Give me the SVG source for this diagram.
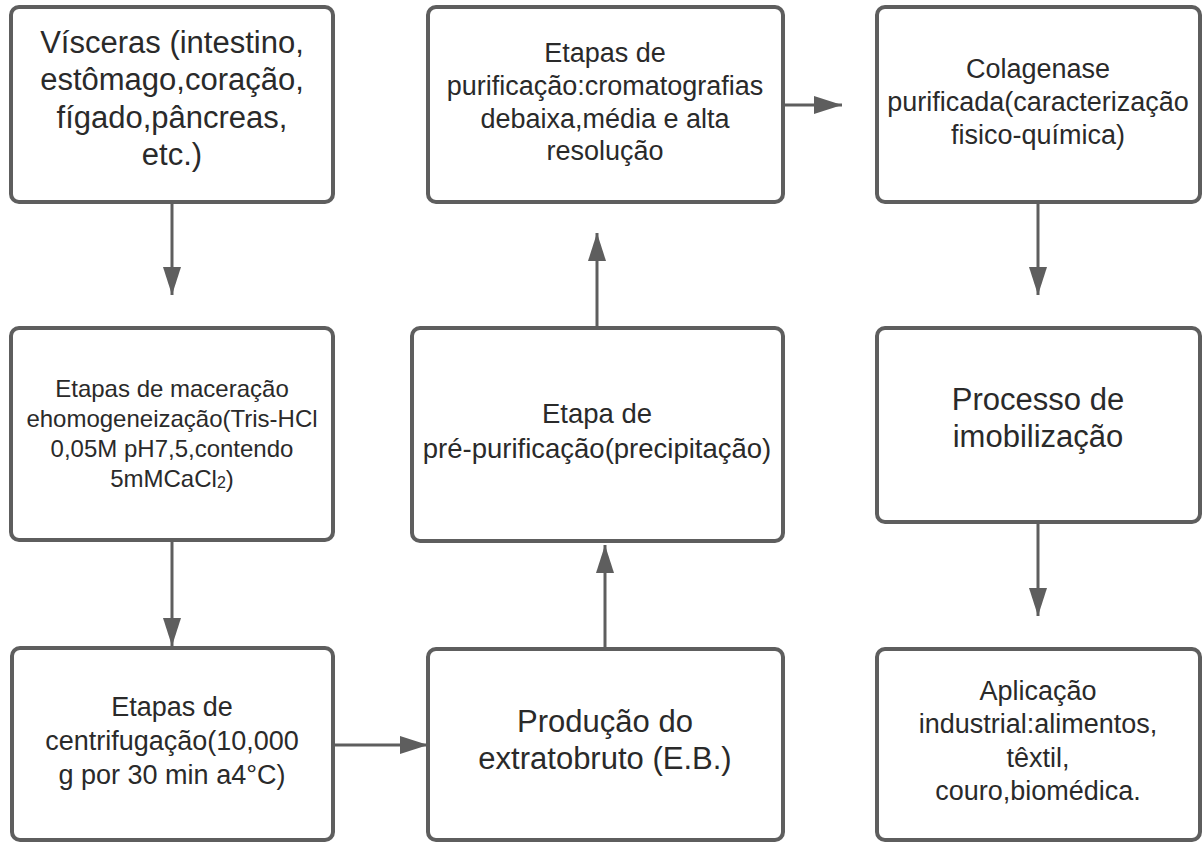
<svg xmlns="http://www.w3.org/2000/svg" width="1203" height="843" viewBox="0 0 1203 843">
<style>
.box{fill:#ffffff;stroke:#5e5e5e;stroke-width:4}
.t{font-family:"Liberation Sans",Arial,sans-serif;fill:#2a2a2a;text-anchor:middle}
.c{stroke:#5e5e5e;stroke-width:3;fill:none}
</style>
<defs>
<marker id="ah" viewBox="0 0 28 18" refX="28" refY="9" markerWidth="28" markerHeight="18" markerUnits="userSpaceOnUse" orient="auto">
<path d="M0,0 L28,9 L0,18 z" fill="#5e5e5e"/>
</marker>
</defs>
<rect width="1203" height="843" fill="#ffffff"/>
<g id="connectors">
<line class="c" x1="172" y1="203" x2="172" y2="295" marker-end="url(#ah)"/>
<line class="c" x1="172" y1="541" x2="172" y2="646" marker-end="url(#ah)"/>
<line class="c" x1="334" y1="745" x2="428" y2="745" marker-end="url(#ah)"/>
<line class="c" x1="605" y1="648" x2="605" y2="545" marker-end="url(#ah)"/>
<line class="c" x1="597" y1="327" x2="597" y2="233" marker-end="url(#ah)"/>
<line class="c" x1="784" y1="105" x2="842" y2="105" marker-end="url(#ah)"/>
<line class="c" x1="1038" y1="203" x2="1038" y2="295" marker-end="url(#ah)"/>
<line class="c" x1="1038" y1="523" x2="1038" y2="616" marker-end="url(#ah)"/>
</g>
<g id="visceras">
<rect class="box" x="11" y="7" width="322" height="195" rx="8"/>
<text class="t" font-size="31"><tspan x="172" y="53">Vísceras (intestino,</tspan><tspan x="172" y="90">estômago,coração,</tspan><tspan x="172" y="128">fígado,pâncreas,</tspan><tspan x="172" y="165">etc.)</tspan></text>
</g>
<g id="maceracao">
<rect class="box" x="11" y="328" width="322" height="212" rx="8"/>
<text class="t" font-size="24"><tspan x="172" y="397">Etapas de maceração</tspan><tspan x="172" y="427">ehomogeneização(Tris-HCl</tspan><tspan x="172" y="457">0,05M pH7,5,contendo</tspan><tspan x="172" y="487">5mMCaCl<tspan font-size="16" dy="1">2</tspan><tspan dy="-1">)</tspan></tspan></text>
</g>
<g id="centrifugacao">
<rect class="box" x="12" y="648" width="321" height="192" rx="8"/>
<text class="t" font-size="27"><tspan x="172" y="716">Etapas de</tspan><tspan x="172" y="750">centrifugação(10,000</tspan><tspan x="172" y="784">g por 30 min a4°C)</tspan></text>
</g>
<g id="producao">
<rect class="box" x="428" y="649" width="355" height="191" rx="8"/>
<text class="t" font-size="31"><tspan x="605" y="732">Produção do</tspan><tspan x="605" y="769">extratobruto (E.B.)</tspan></text>
</g>
<g id="pre-purificacao">
<rect class="box" x="412" y="328" width="371" height="213" rx="8"/>
<text class="t" font-size="27.5"><tspan x="597" y="423">Etapa de</tspan><tspan x="597" y="458">pré-purificação(precipitação)</tspan></text>
</g>
<g id="purificacao">
<rect class="box" x="428" y="7" width="355" height="195" rx="8"/>
<text class="t" font-size="27"><tspan x="605" y="62">Etapas de</tspan><tspan x="605" y="95">purificação:cromatografias</tspan><tspan x="605" y="128">debaixa,média e alta</tspan><tspan x="605" y="160">resolução</tspan></text>
</g>
<g id="colagenase">
<rect class="box" x="877" y="7" width="323" height="195" rx="8"/>
<text class="t" font-size="27"><tspan x="1038" y="78">Colagenase</tspan><tspan x="1038" y="111">purificada(caracterização</tspan><tspan x="1038" y="144">fisico-química)</tspan></text>
</g>
<g id="processo">
<rect class="box" x="877" y="328" width="323" height="194" rx="8"/>
<text class="t" font-size="31"><tspan x="1038" y="410">Processo de</tspan><tspan x="1038" y="447">imobilização</tspan></text>
</g>
<g id="aplicacao">
<rect class="box" x="877" y="649" width="323" height="191" rx="8"/>
<text class="t" font-size="27"><tspan x="1038" y="700">Aplicação</tspan><tspan x="1038" y="733">industrial:alimentos,</tspan><tspan x="1038" y="767">têxtil,</tspan><tspan x="1038" y="800">couro,biomédica.</tspan></text>
</g>
</svg>
